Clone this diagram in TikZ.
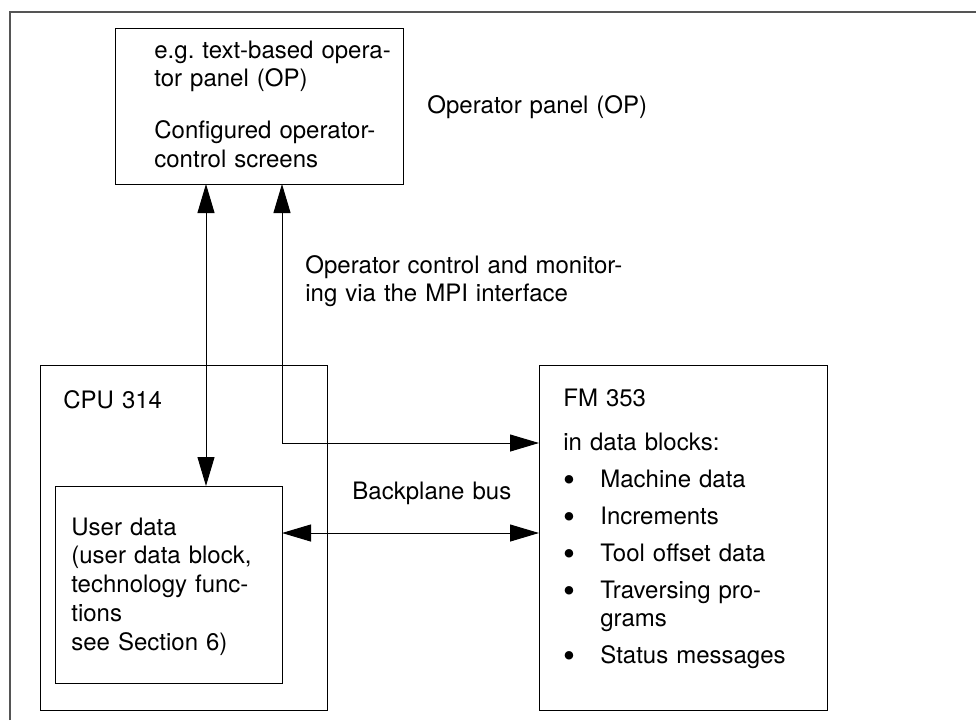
\documentclass[tikz,border=0pt]{standalone}
\usepackage{fontspec}
\setmainfont{TeX Gyre Heros}
\usetikzlibrary{arrows.meta}
\definecolor{framegray}{HTML}{555555}
\newcommand{\fmbullet}{\makebox[18.5pt][l]{\raisebox{-2pt}{\fontsize{17}{0}\selectfont\textbullet}}}
\frenchspacing

\begin{document}
\begin{tikzpicture}[x=0.5pt, y=-0.5pt,
    font=\fontsize{12}{14.4}\selectfont,
    box/.style={draw, line width=0.5pt, inner sep=0pt, outer sep=0pt, anchor=north west},
    txt/.style={anchor=base west, inner sep=0pt, text width=#1, align=left},
    txt/.default=220pt,
    link/.style={{Triangle[length=14.5pt,width=8.5pt]}-{Triangle[length=14.5pt,width=8.5pt]}, line width=0.5pt}]
  \useasboundingbox (0,0) rectangle (976,720);
  \draw[framegray, line width=1pt] (10,720) -- (10,12) -- (976,12);

  % boxes
  \node[box, minimum width=144pt, minimum height=78pt] (op) at (115,28) {};
  \node[box, minimum width=143.5pt, minimum height=172.5pt] (cpu) at (40,365) {};
  \node[box, minimum width=113.5pt, minimum height=98.5pt] (user) at (55,486) {};
  \node[box, minimum width=144pt, minimum height=172.5pt] (fm) at (539,365) {};

  % texts
  \node[txt] (optext) at (154,58) {e.g. text-based opera-\\tor panel (OP)\\[11.5pt]
    Configured operator-\\control screens};
  \node[txt] (oplabel) at (427,113) {Operator panel (OP)};
  \node[txt] (mpilabel) at (305,273) {Operator control and monitor-\\ing via the MPI interface};
  \node[txt] (cputext) at (63,408) {CPU 314};
  \node[txt] (usertext) at (71,535) {User data\\(user data block,\\technology func-\\tions\\see Section 6)};
  \node[txt] (buslabel) at (352,499) {Backplane bus};
  \node[txt] (fmtext) at (563,406) {FM 353\\[8pt]
    in data blocks:\\[4pt]
    \fmbullet Machine data\\[4pt]
    \fmbullet Increments\\[4pt]
    \fmbullet Tool offset data\\[4pt]
    \fmbullet Traversing pro-\\\hspace*{18.5pt}grams\\[4pt]
    \fmbullet Status messages};

  % connectors
  \coordinate (mpil) at (206,0);
  \coordinate (mpir) at (282,443);
  \coordinate (bus) at (0,533);
  \draw[link] (op.south -| mpil) -- (user.north -| mpil);
  \draw[link] (op.south -| mpir) -- (mpir) -- (fm.west |- mpir);
  \draw[link] (user.east |- bus) -- (fm.west |- bus);
\end{tikzpicture}
\end{document}
